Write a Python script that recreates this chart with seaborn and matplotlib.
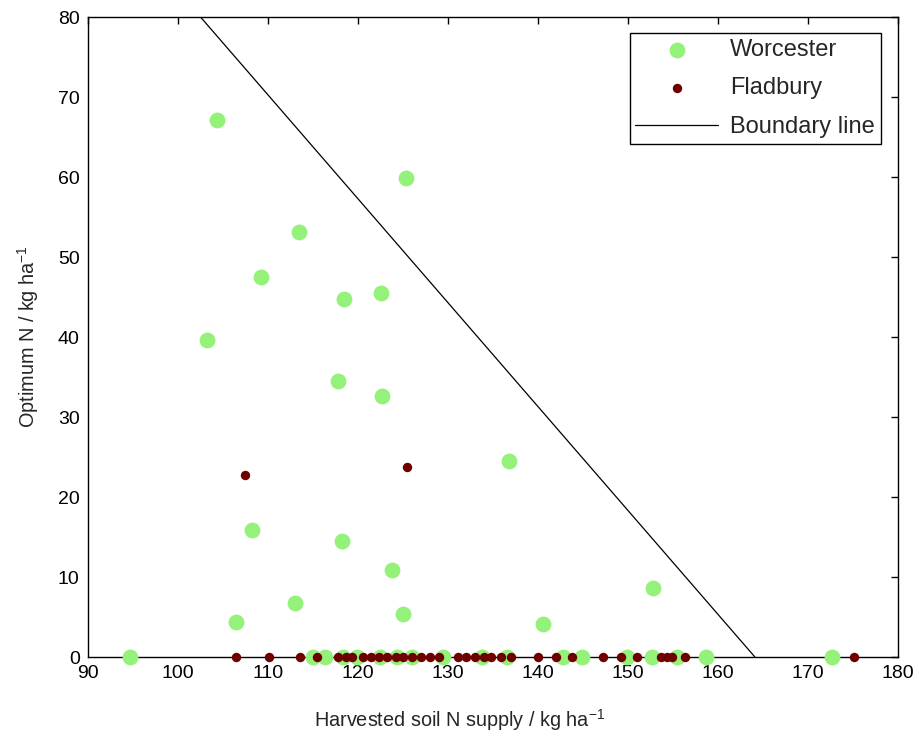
import matplotlib
matplotlib.use("Agg")
import matplotlib.pyplot as plt
import seaborn as sns
import pandas as pd
import numpy as np

# Worcester data (harvested soil N supply, optimum N)
worc_x = [104.3, 125.3, 113.5, 109.2, 118.5, 122.6, 103.2, 117.8, 122.7, 136.8,
          108.2, 118.2, 123.8, 125.0, 113.0, 106.4, 140.6, 152.8,
          94.7, 115.0, 116.3, 118.3, 119.9, 122.4, 124.3, 126.0, 129.4, 133.8,
          136.6, 142.8, 144.9, 149.9, 152.7, 155.4, 158.7, 172.7]
worc_y = [67.1, 59.9, 53.1, 47.5, 44.8, 45.5, 39.6, 34.5, 32.6, 24.5,
          15.9, 14.5, 10.9, 5.4, 6.7, 4.4, 4.1, 8.6,
          0, 0, 0, 0, 0, 0, 0, 0, 0, 0,
          0, 0, 0, 0, 0, 0, 0, 0]

# Fladbury data
flad_x = [107.4, 125.4,
          106.4, 110.1, 113.6, 115.4, 117.8, 118.7, 119.3, 120.6, 121.5, 122.3,
          123.2, 124.2, 125.0, 126.0, 127.0, 128.0, 129.0, 131.1, 132.0, 133.0,
          134.0, 134.8, 135.9, 137.0, 140.0, 142.0, 143.8, 147.2, 149.2, 151.0,
          153.7, 154.3, 154.9, 156.3, 175.1]
flad_y = [22.8, 23.7] + [0] * 35

# Boundary line
bound_x = [102.5, 164.1]
bound_y = [80, 0]

sns.set_style("white")
plt.rcParams['font.family'] = ['Liberation Sans', 'DejaVu Sans']
plt.rcParams['mathtext.fontset'] = 'custom'
plt.rcParams['mathtext.rm'] = 'Liberation Sans'
plt.rcParams['mathtext.it'] = 'Liberation Sans'
plt.rcParams['mathtext.default'] = 'regular'

fig = plt.figure(figsize=(9.2, 7.36), dpi=100)
ax = fig.add_axes([88/920, 79/736, 810/920, 640/736])

green = '#94F27A'
maroon = '#6E0000'

dfw = pd.DataFrame({'x': worc_x, 'y': worc_y})
dff = pd.DataFrame({'x': flad_x, 'y': flad_y})

sns.scatterplot(data=dfw, x='x', y='y', ax=ax, color=green, s=130,
                linewidth=0, label='Worcester', zorder=3, clip_on=False)
sns.scatterplot(data=dff, x='x', y='y', ax=ax, color=maroon, s=46,
                linewidth=0, label='Fladbury', zorder=4, clip_on=False)
sns.lineplot(x=bound_x, y=bound_y, ax=ax, color='black', linewidth=0.9,
             label='Boundary line', zorder=2)

ax.set_xlim(90, 180)
ax.set_ylim(0, 80)
ax.set_xticks(np.arange(90, 181, 10))
ax.set_yticks(np.arange(0, 81, 10))
ax.tick_params(direction='in', length=5, width=1, labelsize=14, colors='black',
               top=True, right=True, pad=6)
for sp in ax.spines.values():
    sp.set_color('black')
    sp.set_linewidth(1)
    sp.set_visible(True)

ax.set_xlabel('Harvested soil N supply / kg ha$^{-1}$', fontsize=14.3)
ax.xaxis.set_label_coords(0.459, -0.078)
ax.set_ylabel('Optimum N / kg ha$^{-1}$', fontsize=14.3)
ax.yaxis.set_label_coords(-0.058, 0.5)

leg = ax.legend(loc='upper right', bbox_to_anchor=(0.9785, 0.975), fontsize=17,
                frameon=True, fancybox=False, edgecolor='black', framealpha=1,
                borderpad=0.25, handlelength=3.5, labelspacing=0.7, handletextpad=0.5,
                borderaxespad=0)
leg.get_frame().set_linewidth(1)

fig.savefig('out.png', dpi=100)
